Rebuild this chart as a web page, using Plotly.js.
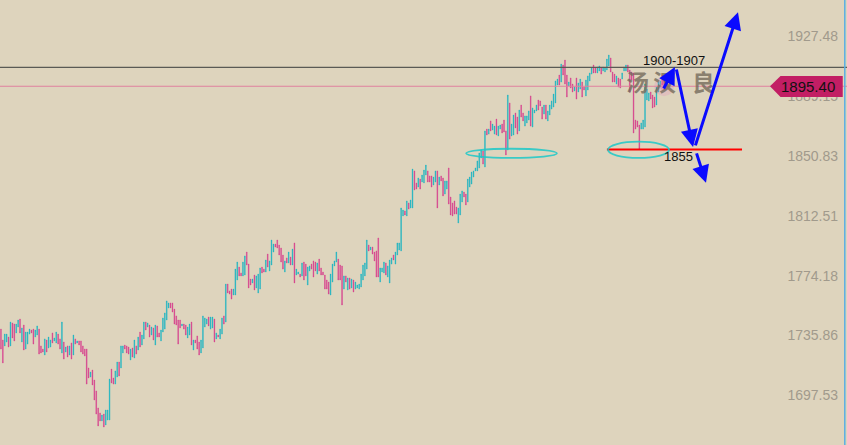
<!DOCTYPE html>
<html>
<head>
<meta charset="utf-8">
<script src="https://cdn.plot.ly/plotly-3.0.1.min.js"></script>
<style>html,body{margin:0;padding:0;background:#ded4bd;}#chart{width:847px;height:445px;}</style>
</head>
<body>
<div id="chart"></div>
<script>
// Candle open / close prices (one per bar, left to right)
const openPrices = [
1740.0,1733.0,1729.2,1731.7,1734.9,1729.2,1743.9,1743.2,1737.5,1741.3,
1746.4,1731.7,1742.6,1727.2,1730.4,1736.8,1739.4,1740.0,1734.9,1736.2,
1740.0,1729.2,1727.2,1723.4,1733.0,1727.9,1728.5,1737.5,1732.4,1731.1,
1736.8,1733.7,1724.7,1731.7,1725.3,1729.2,1723.4,1731.1,1723.4,1733.7,
1731.1,1732.4,1732.4,1729.2,1727.2,1727.2,1715.1,1709.3,1713.8,1707.4,
1700.4,1689.5,1686.3,1681.2,1685.6,1678.6,1681.8,1681.8,1714.4,1708.7,
1704.8,1709.3,1718.9,1715.1,1724.7,1729.8,1729.2,1728.5,1720.2,1727.9,
1721.5,1729.2,1726.6,1738.1,1729.8,1733.7,1744.5,1741.3,1742.6,1736.2,
1740.7,1729.8,1742.0,1737.5,1732.4,1738.1,1740.0,1745.8,1753.5,1756.7,
1756.7,1752.8,1748.4,1745.8,1745.8,1742.0,1743.2,1742.6,1734.3,1736.2,
1744.5,1726.6,1733.0,1735.6,1731.7,1724.7,1727.9,1741.3,1743.2,1747.7,
1740.0,1740.7,1746.4,1733.7,1736.2,1733.7,1736.8,1748.4,1744.5,1768.8,
1764.4,1765.6,1761.8,1761.8,1771.4,1779.7,1775.9,1774.0,1774.6,1789.3,
1781.6,1772.0,1769.5,1774.6,1766.3,1763.1,1765.6,1779.7,1778.4,1776.5,
1788.0,1777.2,1781.0,1789.3,1794.4,1797.0,1793.8,1791.9,1787.4,1776.5,
1785.5,1782.3,1786.1,1781.0,1795.1,1774.6,1775.2,1775.2,1774.0,1782.9,
1781.6,1768.2,1777.2,1781.6,1783.6,1782.9,1775.2,1784.8,1779.1,1776.5,
1774.6,1771.4,1770.1,1761.8,1770.1,1780.4,1782.9,1784.8,1781.0,1780.4,
1765.6,1774.0,1765.0,1772.7,1766.3,1771.4,1765.6,1766.3,1765.6,1766.9,
1771.4,1774.0,1778.4,1793.8,1790.6,1792.5,1789.3,1790.0,1798.3,1770.1,
1776.5,1775.9,1782.3,1773.3,1769.5,1781.6,1787.4,1781.6,1787.4,1790.6,
1790.0,1812.4,1815.6,1812.4,1820.7,1817.5,1817.5,1841.2,1833.5,1830.9,
1836.0,1834.1,1833.5,1838.6,1841.2,1838.0,1838.0,1832.2,1834.1,1841.2,
1832.2,1838.0,1836.7,1826.4,1829.6,1843.1,1824.5,1820.7,1822.0,1818.1,
1807.9,1813.0,1821.3,1827.7,1826.4,1821.3,1830.9,1832.8,1837.3,1841.2,
1841.2,1843.1,1849.5,1854.0,1843.7,1868.0,1864.8,1873.2,1867.4,1864.8,
1874.4,1863.6,1868.0,1871.2,1873.8,1866.8,1854.6,1884.7,1863.6,1864.2,
1878.3,1875.7,1866.8,1883.4,1878.3,1869.9,1871.9,1873.8,1889.2,1869.3,
1878.3,1879.6,1886.6,1886.0,1882.1,1877.6,1883.4,1873.2,1877.0,1880.8,
1882.1,1884.7,1896.2,1902.6,1898.1,1909.0,1912.2,1902.6,1895.6,1900.7,
1896.8,1892.4,1900.7,1891.7,1893.6,1898.1,1894.9,1889.2,1893.0,1898.8,
1903.2,1909.0,1907.1,1903.9,1905.2,1907.1,1905.2,1904.5,1905.8,1908.4,
1913.5,1904.5,1903.2,1896.8,1900.7,1900.0,1900.0,1905.2,1905.2,1909.0,
1905.8,1904.5,1903.9,1873.8,1873.2,1870.6,1868.0,1868.0,1869.3,1886.6,
1886.0,1891.7,1889.8,1888.5,1883.4,1891.7,1894.9,1902.6,1901.3
];
const closePrices = [
1727.2,1718.3,1736.8,1736.8,1728.5,1744.5,1734.3,1732.4,1743.2,1745.8,
1737.5,1740.7,1726.6,1738.1,1738.1,1740.0,1737.5,1730.4,1739.4,1742.0,
1724.0,1724.7,1725.3,1733.7,1725.3,1734.9,1733.0,1731.1,1734.3,1738.1,
1730.4,1727.2,1744.5,1720.8,1728.5,1722.1,1729.2,1720.8,1736.2,1730.4,
1732.4,1729.8,1725.3,1724.0,1722.8,1704.8,1708.7,1712.5,1704.2,1694.6,
1685.6,1678.0,1681.2,1685.0,1677.3,1688.2,1688.2,1708.0,1705.5,1704.8,
1713.2,1718.9,1710.0,1729.2,1729.2,1727.2,1724.7,1724.0,1727.2,1722.1,
1733.0,1724.0,1734.9,1728.5,1736.2,1744.5,1739.4,1743.9,1734.9,1741.3,
1733.0,1742.6,1734.9,1734.9,1739.4,1747.1,1750.3,1758.0,1756.7,1753.5,
1750.9,1743.2,1742.6,1730.4,1740.7,1743.2,1740.0,1736.2,1741.3,1743.2,
1729.8,1733.0,1731.1,1727.2,1723.4,1733.0,1748.4,1747.1,1746.4,1742.0,
1747.7,1747.7,1731.7,1737.5,1734.9,1740.0,1747.1,1743.2,1768.8,1763.1,
1762.4,1759.2,1765.6,1778.4,1782.9,1774.0,1774.0,1782.9,1786.8,1781.0,
1766.3,1768.2,1772.0,1765.0,1774.0,1775.2,1779.1,1775.9,1776.5,1784.2,
1779.7,1783.6,1797.0,1794.4,1792.5,1791.9,1787.4,1782.9,1778.4,1783.6,
1782.3,1789.3,1781.0,1791.2,1769.5,1778.4,1776.5,1773.3,1782.3,1771.4,
1774.0,1779.7,1780.4,1778.4,1773.3,1777.2,1782.3,1777.2,1774.6,1774.6,
1765.6,1765.6,1762.4,1775.2,1781.6,1783.6,1789.3,1771.4,1771.4,1755.4,
1774.0,1770.1,1772.7,1765.6,1772.0,1763.7,1770.1,1768.2,1768.8,1775.2,
1781.0,1782.3,1797.0,1790.0,1792.5,1788.0,1783.6,1773.3,1773.3,1779.1,
1779.1,1782.9,1774.6,1780.4,1784.2,1785.5,1784.2,1789.3,1795.1,1795.1,
1817.5,1816.2,1813.0,1822.0,1816.8,1822.6,1842.4,1829.0,1829.6,1836.7,
1829.6,1838.6,1841.8,1845.0,1834.1,1834.1,1830.9,1837.3,1841.2,1817.5,
1837.3,1834.8,1825.2,1834.8,1834.8,1820.0,1813.0,1812.4,1813.6,1813.6,
1817.5,1826.4,1828.4,1824.5,1819.4,1836.0,1837.3,1840.5,1841.2,1843.1,
1847.6,1852.7,1854.6,1845.6,1866.8,1864.2,1868.0,1866.8,1871.2,1869.9,
1864.2,1869.9,1870.6,1865.5,1866.1,1851.4,1889.8,1861.6,1871.2,1877.0,
1868.7,1864.8,1880.2,1875.7,1873.2,1876.4,1876.4,1879.6,1869.9,1881.5,
1880.2,1883.4,1880.2,1882.8,1874.4,1883.4,1874.4,1879.6,1883.4,1886.0,
1890.4,1898.8,1900.0,1896.2,1909.6,1902.6,1896.8,1888.5,1898.1,1894.3,
1891.7,1894.9,1887.2,1897.5,1900.0,1888.5,1893.0,1899.4,1902.0,1903.9,
1907.1,1903.9,1903.9,1907.7,1908.4,1903.2,1907.7,1907.1,1912.8,1915.4,
1904.5,1898.1,1898.1,1902.0,1894.9,1894.3,1903.9,1907.7,1909.0,1904.5,
1891.7,1899.4,1865.5,1868.0,1869.3,1855.2,1871.9,1873.8,1896.8,1893.6,
1891.1,1887.2,1881.5,1882.1,1894.9,1898.1,1898.8,1896.2,1895.4
];
// Right axis tick values / labels
const tickValues = [1927.48, 1889.15, 1850.83, 1812.51, 1774.18, 1735.86, 1697.53];
const tickLabels = ['1927.48', '1889.15', '1850.83', '1812.51', '1774.18', '1735.86', '1697.53'];
// Reference levels
const lastPrice = 1895.40;
const resistanceLevel = 1907.5;
const supportLevel = 1855;
const noteLabels = ['1900-1907', '1855'];
const watermarkChars = ['汤', '汉', '良'];
// Hand-drawn forecast arrows: [tailX, tailY, headX, headY] (bar index, price)
const arrowTailX = [347.4, 354.3, 364.2, 364.8];
const arrowTailY = [1893.0, 1907.1, 1856.6, 1853.4];
const arrowHeadX = [353.7, 363.2, 386.8, 370.0];
const arrowHeadY = [1907.7, 1856.6, 1942.8, 1833.6];

const xIdx = openPrices.map((_, i) => i);
const highPrices = openPrices.map((o, i) => Math.max(o, closePrices[i]));
const lowPrices = openPrices.map((o, i) => Math.min(o, closePrices[i]));

const UP = '#12b2c3', DOWN = '#d6388a';
const lastIdx = xIdx[xIdx.length - 1];

const traces = [
  {
    type: 'candlestick', x: xIdx, open: openPrices, high: highPrices, low: lowPrices, close: closePrices,
    increasing: {line: {color: UP, width: 0.4}, fillcolor: UP},
    decreasing: {line: {color: DOWN, width: 0.4}, fillcolor: DOWN},
    whiskerwidth: 0, hoverinfo: 'skip', showlegend: false
  },
  {
    type: 'scatter', mode: 'markers', x: [lastIdx, lastIdx], y: [lastPrice, lastPrice],
    marker: {size: [20, 8], color: ['rgba(226,120,190,0.30)', 'rgba(220,90,170,0.55)'], line: {width: 0}},
    hoverinfo: 'skip', showlegend: false
  }
];

const annotations = [];
const wmX = [334.3, 348.0, 368.5];
watermarkChars.forEach((c, i) => annotations.push({
  x: wmX[i], y: 1898.8, xref: 'x', yref: 'y', text: c, showarrow: false,
  font: {family: 'Noto Sans CJK SC', size: 23, weight: 'bold', color: 'rgba(115,105,90,0.78)'}
}));
for (let i = 0; i < arrowTailX.length; i++) {
  annotations.push({
    x: arrowHeadX[i], y: arrowHeadY[i], ax: arrowTailX[i], ay: arrowTailY[i],
    xref: 'x', yref: 'y', axref: 'x', ayref: 'y', text: '', showarrow: true,
    arrowhead: 2, arrowsize: 1.15, arrowwidth: 3, arrowcolor: '#0a0aff', standoff: 0, startstandoff: 0
  });
}
annotations.push({x: 353.2, y: 1911.8, xref: 'x', yref: 'y', text: noteLabels[0], showarrow: false,
  font: {family: 'Liberation Sans, Arial', size: 13, color: '#111'}});
annotations.push({x: 355.6, y: 1850.5, xref: 'x', yref: 'y', text: noteLabels[1], showarrow: false,
  font: {family: 'Liberation Sans, Arial', size: 13, color: '#111'}});
annotations.push({x: 808 / 847, y: lastPrice, xref: 'paper', yref: 'y', xanchor: 'center', yanchor: 'middle',
  text: lastPrice.toFixed(2), showarrow: false,
  font: {family: 'Liberation Sans, Arial', size: 15, color: '#111'}});

const shapes = [
  {type: 'line', xref: 'paper', x0: 0, x1: 1, yref: 'y', y0: resistanceLevel, y1: resistanceLevel, line: {color: '#5a5a55', width: 1.3}},
  {type: 'line', xref: 'paper', x0: 0, x1: 1, yref: 'y', y0: lastPrice, y1: lastPrice, line: {color: '#e0809e', width: 1}},
  {type: 'line', xref: 'x', x0: 318.0, x1: 388.9, yref: 'y', y0: supportLevel, y1: supportLevel, line: {color: '#ff0000', width: 2}},
  {type: 'circle', xref: 'x', yref: 'y', x0: 244.1, x1: 291.8, y0: 1849.5, y1: 1855.4, line: {color: 'rgba(28,200,200,0.85)', width: 1.8}},
  {type: 'circle', xref: 'x', yref: 'y', x0: 318.6, x1: 350.6, y0: 1849.5, y1: 1859.9, line: {color: 'rgba(28,200,200,0.85)', width: 1.8}},
  {type: 'path', xref: 'paper', yref: 'y', fillcolor: '#c21e64', line: {width: 0},
   path: 'M 0.9091,1895.4 L 0.9215,1902.0 L 0.9950,1902.0 L 0.9950,1888.6 L 0.9215,1888.6 Z'},
  {type: 'line', xref: 'paper', x0: 0.9974, x1: 0.9974, yref: 'paper', y0: 0, y1: 1, line: {color: '#59b0e3', width: 1.5}}
];

const layout = {
  width: 847, height: 445,
  margin: {l: 0, r: 0, t: 0, b: 0},
  paper_bgcolor: '#ded4bd', plot_bgcolor: '#ded4bd',
  showlegend: false, hovermode: false, boxgap: 0.45,
  xaxis: {range: [-0.5, 444], visible: false, rangeslider: {visible: false}, fixedrange: true},
  yaxis: {
    range: [1665.8, 1950.6], side: 'right', tickvals: tickValues, ticktext: tickLabels,
    ticklabelposition: 'inside', ticklabelstandoff: 6, ticks: '', showgrid: false, zeroline: false, showline: false,
    tickfont: {family: 'Liberation Sans, Arial', size: 14, color: '#a19a8c'}, fixedrange: true
  },
  shapes: shapes, annotations: annotations
};

Plotly.newPlot('chart', traces, layout, {displayModeBar: false, staticPlot: true});
</script>
</body>
</html>
